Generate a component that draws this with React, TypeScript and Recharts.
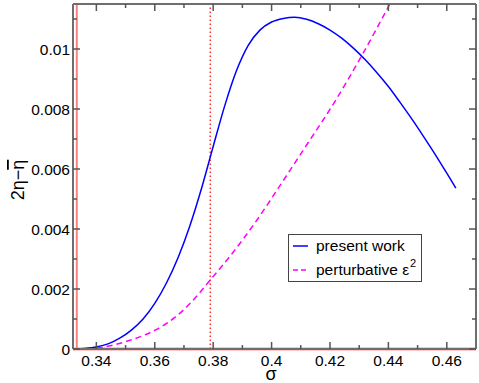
import React from 'react';
import { LineChart, Line, XAxis, YAxis, ReferenceLine, Legend } from 'recharts';

// present work (sigma, 2eta - eta_bar)
const presentSigma = [0.3333, 0.336, 0.340, 0.344, 0.348, 0.352, 0.356, 0.360, 0.364, 0.368, 0.372, 0.376, 0.380, 0.384, 0.388, 0.392, 0.396, 0.400, 0.404, 0.408, 0.412, 0.416, 0.420, 0.424, 0.428, 0.432, 0.436, 0.440, 0.444, 0.448, 0.452, 0.456, 0.460, 0.4631];
const presentValue = [0, 0.00002, 0.00007, 0.00017, 0.00036, 0.00063, 0.00100, 0.00152, 0.00220, 0.00305, 0.00410, 0.00535, 0.00675, 0.00812, 0.00928, 0.01012, 0.01063, 0.01090, 0.01102, 0.01106, 0.01099, 0.01084, 0.01063, 0.01036, 0.01003, 0.00965, 0.00922, 0.00875, 0.00822, 0.00767, 0.00709, 0.00649, 0.00586, 0.00536];

// perturbative eps^2
const pertSigma = [0.3333, 0.3400, 0.3442, 0.3499, 0.3556, 0.3613, 0.3670, 0.3727, 0.3790, 0.3850, 0.3950, 0.4039, 0.4120, 0.4220, 0.4310, 0.4405];
const pertValue = [0, 0.00003, 0.00010, 0.00024, 0.00043, 0.00069, 0.00106, 0.00158, 0.00230, 0.00300, 0.00430, 0.00560, 0.00680, 0.00830, 0.00980, 0.01150];

const xTicks = [0.34, 0.35, 0.36, 0.37, 0.38, 0.39, 0.40, 0.41, 0.42, 0.43, 0.44, 0.45, 0.46];
const yTicks = [0, 0.001, 0.002, 0.003, 0.004, 0.005, 0.006, 0.007, 0.008, 0.009, 0.010, 0.011];
const xDomain = [0.332, 0.47];
const yDomain = [0, 0.0115];
const criticalSigma = 0.3333;
const dottedSigma = 0.379;

const presentData = presentSigma.map((s, i) => ({ s, v: presentValue[i] }));
const pertData = pertSigma.map((s, i) => ({ s, v: pertValue[i] }));

const FONT = '"Liberation Sans", Arial, Helvetica, sans-serif';
const AXIS = '#6e6e6e';
const TICK = '#555';
const MAJ = 7;
const MIN = 4;

const isMajorX = (v: number) => Math.round(v * 100) % 2 === 0;
const isMajorY = (v: number) => Math.round(v * 1000) % 2 === 0;
const fmtX = (v: number) => String(Number(v.toFixed(2)));
const fmtY = (v: number) => String(Number(v.toFixed(3)));

const BottomTick = (p: any) => {
  const { x, y, payload } = p;
  const m = isMajorX(payload.value);
  return (
    <g>
      <line x1={x} y1={y} x2={x} y2={y - (m ? MAJ : MIN)} stroke={TICK} strokeWidth={1.5} />
      {m && (
        <text x={x} y={y + 17} textAnchor="middle" fontSize={15.5} fontFamily={FONT} fill="#000">
          {fmtX(payload.value)}
        </text>
      )}
    </g>
  );
};
const TopTick = (p: any) => {
  const { x, y, payload } = p;
  const m = isMajorX(payload.value);
  return <line x1={x} y1={y} x2={x} y2={y + (m ? MAJ : MIN)} stroke={TICK} strokeWidth={1.5} />;
};
const LeftTick = (p: any) => {
  const { x, y, payload } = p;
  const m = isMajorY(payload.value);
  return (
    <g>
      <line x1={x} y1={y} x2={x + (m ? MAJ : MIN)} y2={y} stroke={TICK} strokeWidth={1.5} />
      {m && (
        <text x={x - 3} y={y} textAnchor="end" dominantBaseline="central" fontSize={15.5} fontFamily={FONT} fill="#000">
          {fmtY(payload.value)}
        </text>
      )}
    </g>
  );
};
const RightTick = (p: any) => {
  const { x, y, payload } = p;
  const m = isMajorY(payload.value);
  return <line x1={x} y1={y} x2={x - (m ? MAJ : MIN)} y2={y} stroke={TICK} strokeWidth={1.5} />;
};

const YLabel = () => (
  <text transform="rotate(-90 24 180)" x={24} y={180} textAnchor="middle" fontSize={18} fontFamily={FONT} fill="#000">
    2η−<tspan style={{ textDecoration: 'overline' }}>η</tspan>
  </text>
);
const XLabel = () => (
  <text x={271} y={380} textAnchor="middle" fontSize={18} fontFamily={FONT} fill="#000">σ</text>
);

const LegendBox = () => (
  <div
    style={{
      position: 'relative',
      width: 134,
      height: 48,
      boxSizing: 'border-box',
      border: '1px solid #444',
      background: '#fff',
      fontFamily: FONT,
      fontSize: 15.5,
      color: '#000',
    }}
  >
    <svg width={20} height={48} style={{ position: 'absolute', left: 3, top: -1 }}>
      <line x1={1} y1={12} x2={16} y2={12} stroke="#0000ff" strokeWidth={1.5} />
      <line x1={1} y1={36} x2={16} y2={36} stroke="#ff00ff" strokeWidth={1.5} strokeDasharray="5 3" />
    </svg>
    <div style={{ position: 'absolute', left: 27, top: 2, lineHeight: '18px', whiteSpace: 'nowrap' }}>present work</div>
    <div style={{ position: 'absolute', left: 27, top: 26, lineHeight: '18px', whiteSpace: 'nowrap' }}>
      perturbative ε<span style={{ fontSize: 11, position: 'relative', top: -8, marginLeft: 1 }}>2</span>
    </div>
  </div>
);

export default function App() {
  return (
    <div style={{ position: 'absolute', left: 0, top: 0, width: 479, height: 383, background: '#fff' }}>
      <LineChart width={479} height={383} margin={{ top: 0, right: 0, bottom: 0, left: 0 }}>
        <XAxis
          xAxisId="b"
          type="number"
          dataKey="s"
          domain={xDomain}
          allowDataOverflow
          ticks={xTicks}
          interval={0}
          orientation="bottom"
          height={34}
          tickSize={0}
          tickMargin={0}
          tickLine={false}
          axisLine={{ stroke: AXIS, strokeWidth: 2 }}
          tick={<BottomTick />}
          label={<XLabel />}
        />
        <XAxis
          xAxisId="t"
          type="number"
          dataKey="s"
          domain={xDomain}
          allowDataOverflow
          ticks={xTicks}
          interval={0}
          orientation="top"
          height={4}
          tickSize={0}
          tickMargin={0}
          tickLine={false}
          axisLine={{ stroke: AXIS, strokeWidth: 2 }}
          tick={<TopTick />}
        />
        <YAxis
          yAxisId="l"
          type="number"
          domain={yDomain}
          allowDataOverflow
          ticks={yTicks}
          interval={0}
          orientation="left"
          width={73}
          tickSize={0}
          tickMargin={0}
          tickLine={false}
          axisLine={{ stroke: AXIS, strokeWidth: 2 }}
          tick={<LeftTick />}
          label={<YLabel />}
        />
        <YAxis
          yAxisId="r"
          type="number"
          domain={yDomain}
          allowDataOverflow
          ticks={yTicks}
          interval={0}
          orientation="right"
          width={3}
          tickSize={0}
          tickMargin={0}
          tickLine={false}
          axisLine={{ stroke: AXIS, strokeWidth: 2 }}
          tick={<RightTick />}
        />
        <ReferenceLine xAxisId="b" yAxisId="l" y={0} stroke="#ff8c8c" strokeWidth={3} />
        <ReferenceLine xAxisId="b" yAxisId="l" x={criticalSigma} stroke="#ff8080" strokeWidth={2} />
        <ReferenceLine xAxisId="b" yAxisId="l" x={dottedSigma} stroke="#ff3030" strokeWidth={1.5} strokeDasharray="1.5 2.5" />
        <Line
          xAxisId="b"
          yAxisId="l"
          data={presentData}
          dataKey="v"
          type="monotone"
          stroke="#0000ff"
          strokeWidth={1.5}
          dot={false}
          isAnimationActive={false}
        />
        <Line
          xAxisId="b"
          yAxisId="l"
          data={pertData}
          dataKey="v"
          type="monotone"
          stroke="#ff00ff"
          strokeWidth={1.5}
          strokeDasharray="6 4"
          dot={false}
          isAnimationActive={false}
        />
        <Legend
          layout="vertical"
          align="center"
          verticalAlign="middle"
          content={<LegendBox />}
          wrapperStyle={{ left: 288, top: 234, width: 134, height: 48 }}
        />
      </LineChart>
    </div>
  );
}
